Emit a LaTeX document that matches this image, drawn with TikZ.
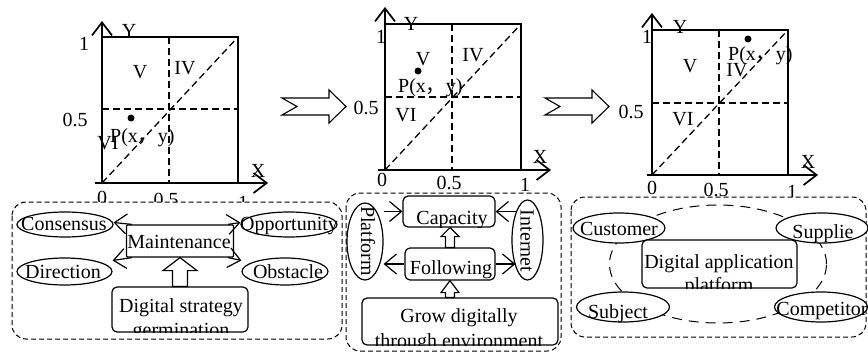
\documentclass[tikz,border=0pt]{standalone}
\usepackage{fontspec}
\setmainfont{Liberation Serif}
\newfontfamily\cjk{Noto Sans CJK SC}
\usetikzlibrary{arrows.meta,calc,shapes.geometric}

% text of a box, cut off at the box border
\newcommand\inside[1]{\clip (#1.south west) rectangle (#1.north east);}
% hollow upward block arrow: base, tip, half shaft, half head, head length
\newcommand\hollowup[5]{%
  \draw[hollow] let \p1=(#1), \p2=(#2) in
    (\x1-#3,\y1) -- (\x1-#3,\y2-#5) -- (\x1-#4,\y2-#5) -- (\x1,\y2)
    -- (\x1+#4,\y2-#5) -- (\x1+#3,\y2-#5) -- (\x1+#3,\y1) -- cycle;}

\begin{document}
\begin{tikzpicture}[x=1pt,y=-1pt,
  txt/.style={font=\fontsize{20}{24}\selectfont, inner sep=0pt},
  frame/.style={line width=1.7pt},
  guide/.style={line width=1.3pt, dash pattern=on 7pt off 4pt},
  axis/.style={line width=1.7pt, -{Straight Barb[length=13pt,width=20pt]}},
  dot/.style={circle, fill=black, inner sep=0pt, minimum size=7pt},
  panel/.style={draw, fill=white, line width=1pt, dash pattern=on 5pt off 3pt, rounded corners=14pt},
  rbox/.style={draw, fill=white, line width=1.2pt, rounded corners=5pt, inner sep=0pt},
  sbox/.style={draw, fill=white, line width=1.2pt, rounded corners=1pt, inner sep=0pt},
  oval/.style={draw, fill=white, ellipse, line width=1.2pt, inner sep=0pt},
  barb/.style={line width=1.2pt, -{Straight Barb[length=12pt,width=20pt]}},
  hollow/.style={fill=white, line width=1.2pt, line join=miter},
  bigarrow/.style={draw, fill=white, line width=1.1pt, line join=miter},
  ring/.style={draw, ellipse, line width=1pt, dash pattern=on 10pt off 7pt, inner sep=0pt},
]
\useasboundingbox (0,0) rectangle (868,353);

% ---------- first unit square ----------
\coordinate (a0) at (102,183);
\coordinate (a1) at (238,37);
\draw[frame] (a0) rectangle (a1);
\draw[guide] (169,37) -- (169,183);
\draw[guide] (102,109) -- (238,109);
\draw[guide] (a0) -- (a1);
\draw[axis] (102,183) -- (102,21);
\draw[axis] (95,183) -- (268,183);
\node[txt] (ay) at (129,31) {Y};
\node[txt] (ax) at (258,171) {X};
\node[txt] (a1l) at (84,44) {1};
\node[txt] (a5l) at (75,120) {0.5};
\node[txt] (av) at (140,72) {V};
\node[txt] (aiv) at (185,68) {IV};
\node[txt] (avi) at (108,143) {VI};
\node[dot] (ap) at (131,118) {};
\node[txt, anchor=west] (apt) at (110,138) {P(x{\cjk ，}y)};
\node[txt] (ax0) at (102,198) {0};
\node[txt] (ax5) at (166,200) {0.5};
\node[txt] (ax1) at (243,203) {1};

% ---------- second unit square ----------
\coordinate (b0) at (385,170);
\coordinate (b1) at (521,24);
\draw[frame] (b0) rectangle (b1);
\draw[guide] (452,24) -- (452,170);
\draw[guide] (385,97) -- (521,97);
\draw[guide] (b0) -- (b1);
\draw[axis] (385,170) -- (385,7);
\draw[axis] (378,170) -- (551,170);
\node[txt] (by) at (411,24) {Y};
\node[txt] (bx) at (540,157) {X};
\node[txt] (b1l) at (381,37) {1};
\node[txt] (b5l) at (366,108) {0.5};
\node[txt] (bv) at (423,59) {V};
\node[txt] (biv) at (473,55) {IV};
\node[txt] (bvi) at (406,115) {VI};
\node[dot] (bp) at (418,71) {};
\node[txt, anchor=west] (bpt) at (398,88) {P(x{\cjk ，}y)};
\node[txt] (bx0) at (382,180) {0};
\node[txt] (bx5) at (449,183) {0.5};
\node[txt] (bx1) at (525,185) {1};

% ---------- third unit square ----------
\coordinate (c0) at (652,175);
\coordinate (c1) at (788,30);
\draw[frame] (c0) rectangle (c1);
\draw[guide] (719,30) -- (719,175);
\draw[guide] (652,103) -- (788,103);
\draw[guide] (c0) -- (c1);
\draw[axis] (652,175) -- (652,13);
\draw[axis] (647,175) -- (818,175);
\node[txt] (cy) at (680,27) {Y};
\node[txt] (cx) at (808,162) {X};
\node[txt] (c1l) at (647,37) {1};
\node[txt] (c5l) at (631,112) {0.5};
\node[txt] (cv) at (690,66) {V};
\node[txt] (civ) at (737,70) {IV};
\node[txt] (cvi) at (683,119) {VI};
\node[dot] (cp) at (748,39) {};
\node[txt, anchor=west] (cpt) at (728,56) {P(x{\cjk ，}y)};
\node[txt] (cx0) at (652,188) {0};
\node[txt] (cx5) at (716,190) {0.5};
\node[txt] (cx1) at (792,192) {1};

% ---------- block arrows between the squares ----------
\draw[bigarrow] (282,98) -- (329,98) -- (329,90) -- (346,106.5) -- (329,123)
  -- (329,115) -- (282,115) -- (297,106.5) -- cycle;
\draw[bigarrow] (545,98) -- (592,98) -- (592,90) -- (609,106.5) -- (592,123)
  -- (592,115) -- (545,115) -- (560,106.5) -- cycle;

% ---------- panels ----------
\draw[panel] (12,202) rectangle (342,339);
\draw[panel] (346,193) rectangle (561,351);
\draw[panel] (571,197) rectangle (866,337);

% ---------- panel 1 ----------
\node[oval, minimum width=96pt, minimum height=25pt] (cons) at (65,224.5) {};
\node[oval, minimum width=96pt, minimum height=25pt] (opp) at (289,224.5) {};
\node[oval, minimum width=95pt, minimum height=27pt] (dir) at (64.5,271.5) {};
\node[oval, minimum width=86pt, minimum height=27pt] (obs) at (285,271.5) {};
\node[sbox, minimum width=107pt, minimum height=32pt] (mnt) at (180,241) {};
\node[rbox, minimum width=136pt, minimum height=45pt] (dsg) at (180,309.5) {};
\node[txt, anchor=base] (cons-t) at (64,230) {Consensus};
\node[txt, anchor=base] (opp-t) at (289,230) {Opportunity};
\node[txt, anchor=base] (dir-t) at (63,278) {Direction};
\node[txt, anchor=base] (obs-t) at (288,278) {Obstacle};
\node[txt, anchor=base] (mnt-t) at (179,248) {Maintenance};
\begin{scope}
  \inside{dsg}
  \node[txt, anchor=base] (dsg-a) at (181,312) {Digital strategy};
  \node[txt, anchor=base] (dsg-b) at (181,336) {germination};
\end{scope}
\draw[barb] ([xshift=6pt]mnt.north west) -- ($(cons.east)+(0,-2)$);
\draw[barb] ([xshift=6pt]mnt.south west) -- ($(dir.east)+(0,-11)$);
\draw[barb] ([xshift=-6pt]mnt.north east) -- ($(opp.west)+(0,-2)$);
\draw[barb] ([xshift=-6pt]mnt.south east) -- ($(obs.west)+(0,-11)$);
\hollowup{dsg.north}{mnt.south}{7.5pt}{17pt}{13pt}

% ---------- panel 2 ----------
\node[rbox, minimum width=92pt, minimum height=31pt] (cap) at (449,211.5) {};
\node[rbox, minimum width=90pt, minimum height=32pt] (fol) at (450,264) {};
\node[rbox, minimum width=196pt, minimum height=47pt] (grow) at (460,321.5) {};
\node[oval, minimum width=36pt, minimum height=77pt] (plat) at (365,241.5) {};
\node[oval, minimum width=31pt, minimum height=80pt] (intn) at (527.5,240) {};
\node[txt, rotate=-90] (plat-t) at (368,241) {Platform};
\node[txt, rotate=-90] (intn-t) at (527,241) {Internet};
\begin{scope}
  \inside{cap}
  \node[txt, anchor=base] (cap-t) at (452,224) {Capacity};
\end{scope}
\begin{scope}
  \inside{fol}
  \node[txt, anchor=base] (fol-t) at (451,274) {Following};
\end{scope}
\begin{scope}
  \inside{grow}
  \node[txt, anchor=base] (grow-a) at (459,322) {Grow digitally};
  \node[txt, anchor=base] (grow-b) at (459,347) {through environment};
\end{scope}
\draw[barb] (plat.east |- cap.west) -- (cap.west);
\draw[barb] ([xshift=6pt]intn.west |- cap.east) -- (cap.east);
\draw[barb] (fol.west) -- (plat.east |- fol.west);
\draw[barb] (fol.east) -- ([xshift=4pt]intn.west |- fol.east);
\hollowup{fol.north}{cap.south}{4.5pt}{9pt}{9pt}
\hollowup{fol.south |- grow.north}{fol.south}{4.5pt}{9pt}{12pt}

% ---------- panel 3 ----------
\node[ring, minimum width=217pt, minimum height=118pt] (eco) at (718,264) {};
\node[oval, minimum width=92pt, minimum height=30pt] (cust) at (619,228) {};
\node[oval, minimum width=92pt, minimum height=30pt] (supp) at (822,228) {};
\node[oval, minimum width=93pt, minimum height=30pt] (subj) at (623,307) {};
\node[oval, minimum width=93pt, minimum height=30pt] (comp) at (821,307) {};
\node[rbox, minimum width=155pt, minimum height=48pt] (dap) at (719.5,264) {};
\node[txt, anchor=base] (cust-t) at (619,235) {Customer};
\node[txt, anchor=base] (supp-t) at (823,238) {Supplie};
\node[txt, anchor=base] (subj-t) at (618,318) {Subject};
\node[txt, anchor=base] (comp-t) at (822,315) {Competitor};
\begin{scope}
  \inside{dap}
  \node[txt, anchor=base] (dap-a) at (719,268) {Digital application};
  \node[txt, anchor=base] (dap-b) at (719,291) {platform};
\end{scope}
\end{tikzpicture}
\end{document}
